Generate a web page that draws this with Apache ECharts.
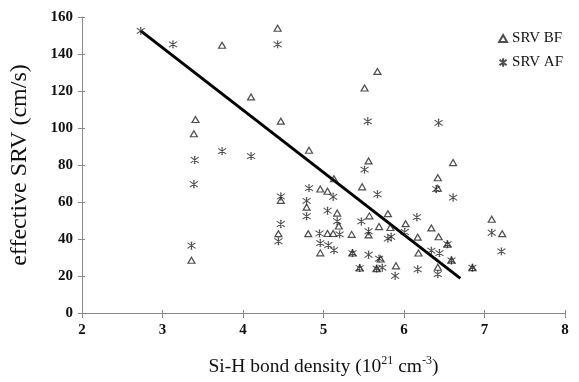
<!DOCTYPE html>
<html>
<head>
<meta charset="utf-8">
<script src="https://cdn.jsdelivr.net/npm/echarts@6/dist/echarts.min.js"></script>
<style>html,body{margin:0;padding:0;background:#fff}#c{width:579px;height:382px}</style>
</head>
<body>
<div id="c"></div>
<script>
var bfX = [3.36,3.39,3.41,3.74,4.10,4.43,4.47,4.82,5.51,5.67,5.56,5.13,5.48,6.42,6.42,6.61,4.96,5.05,4.47,4.79,5.17,5.19,4.44,4.81,5.05,5.12,5.35,5.57,5.69,5.83,5.56,5.80,6.02,6.17,6.34,6.43,6.54,4.96,5.36,5.71,5.45,5.66,5.90,6.18,6.42,6.59,6.85,7.09,7.22];
var bfY = [28.5,96.9,104.6,144.7,116.8,153.9,103.7,88,121.6,130.6,82.2,72.6,68.2,73.1,67.4,81.3,67,65.8,60.9,57.2,54,47,42.9,42.9,43,43,42.5,52.5,46.7,46.2,42.2,53.7,48.3,41,46,41.2,37.2,32.5,32.4,29.2,24.3,24,25.5,32.4,24.7,28.6,24.5,50.7,42.9];
var afX = [2.73,3.13,3.74,4.10,3.40,3.39,3.36,4.43,5.55,6.43,5.51,6.40,6.61,4.82,5.12,5.67,4.47,4.79,4.79,5.05,5.17,4.47,4.44,4.95,5.20,5.47,5.56,5.80,5.84,6.01,6.16,6.54,4.96,5.06,5.13,5.36,5.56,5.69,5.45,5.66,5.73,5.89,6.17,6.42,6.34,6.44,6.59,6.85,7.09,7.21];
var afY = [152.5,145.2,87.5,84.8,82.7,69.6,36.4,145.2,103.6,102.8,77.5,67,62.4,67.5,62.8,64.2,63,60.6,52.3,55.3,49.6,48.1,38.8,43,42.5,49.5,44.2,40.2,41.2,43.8,51.8,37.2,37.8,36.7,34,32.4,31.5,29.4,24.3,24,24.5,20.1,23.6,21,33.7,32.4,28.4,24.5,43.4,33.3];
var fitX = [2.73, 6.70];
var fitY = [152.5, 18.7];
var xTicks = [2,3,4,5,6,7,8];
var yTicks = [0,20,40,60,80,100,120,140,160];

function pairs(xs, ys){ return xs.map(function(x,i){ return [x, ys[i]]; }); }
var serif = 'Liberation Serif';
var astPath = 'path://M4,0 L6,0 M4,10 L6,10 M5,0 L5,10 M0,1 L10,9 M10,1 L0,9';

var chart = echarts.init(document.getElementById('c'));
chart.setOption({
  backgroundColor: '#fff',
  animation: false,
  grid: { left: 79, right: 14, top: 17, bottom: 60 },
  legend: {
    orient: 'vertical', right: 11, top: 26, itemGap: 9, itemWidth: 8, itemHeight: 7,
    textStyle: { fontFamily: serif, fontSize: 15, color: '#111' },
    data: ['SRV BF', 'SRV AF']
  },
  xAxis: [{
    type: 'value', min: xTicks[0], max: xTicks[xTicks.length-1], interval: 1,
    axisLine: { lineStyle: { color: '#8a8a8a', width: 1 } },
    axisTick: { show: true, length: 5, lineStyle: { color: '#8a8a8a' } },
    axisLabel: { fontFamily: serif, fontSize: 15, fontWeight: 'bold', color: '#111', margin: 10 },
    splitLine: { show: false },
    name: '{a|Si-H bond density (10}{s|21}{a| cm}{s|-3}{a|)}',
    nameLocation: 'middle', nameGap: 42,
    nameTextStyle: {
      rich: {
        a: { fontFamily: serif, fontSize: 19.5, color: '#111', lineHeight: 22, verticalAlign: 'bottom' },
        s: { fontFamily: serif, fontSize: 12, color: '#111', lineHeight: 22, verticalAlign: 'top', padding: [0,0,6,0] }
      }
    }
  }, {
    type: 'value', min: xTicks[0], max: xTicks[xTicks.length-1], interval: 1, position: 'bottom',
    axisLine: { show: false }, axisLabel: { show: false }, splitLine: { show: false },
    axisTick: { show: true, inside: true, length: 3, lineStyle: { color: '#8a8a8a' } }
  }],
  yAxis: [{
    type: 'value', min: yTicks[0], max: yTicks[yTicks.length-1], interval: 20,
    axisLine: { show: true, lineStyle: { color: '#8a8a8a', width: 1 } },
    axisTick: { show: true, length: 4, lineStyle: { color: '#8a8a8a' } },
    axisLabel: { fontFamily: serif, fontSize: 15, fontWeight: 'bold', color: '#111', margin: 9 },
    splitLine: { show: false },
    name: 'effective SRV (cm/s)', nameLocation: 'middle', nameGap: 50, nameRotate: 90,
    nameTextStyle: { fontFamily: serif, fontSize: 24, color: '#111' }
  }, {
    type: 'value', min: yTicks[0], max: yTicks[yTicks.length-1], interval: 20, position: 'left',
    axisLine: { show: false }, axisLabel: { show: false }, splitLine: { show: false },
    axisTick: { show: true, inside: true, length: 3, lineStyle: { color: '#8a8a8a' } }
  }],
  series: [{
    name: 'SRV BF', type: 'scatter', data: pairs(bfX, bfY),
    symbol: 'triangle', symbolSize: [7, 6],
    itemStyle: { color: 'rgba(0,0,0,0)', borderColor: '#222', borderWidth: 1.2 }
  }, {
    name: 'SRV AF', type: 'scatter', data: pairs(afX, afY),
    symbol: astPath, symbolSize: [8, 7],
    itemStyle: { color: 'rgba(0,0,0,0)', borderColor: '#222', borderWidth: 1 }
  }, {
    name: 'fit', type: 'line', data: pairs(fitX, fitY), symbol: 'none',
    lineStyle: { color: '#000', width: 3 }, z: 1
  }]
});
</script>
</body>
</html>
